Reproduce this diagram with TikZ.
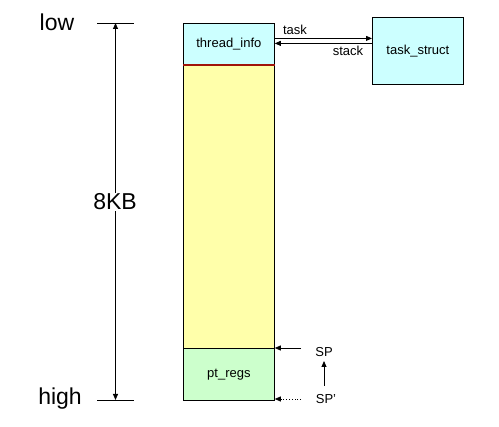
\documentclass[tikz,border=0pt]{standalone}
\usepackage{fontspec}
\setmainfont{Liberation Sans}
\usetikzlibrary{arrows.meta,calc}
\definecolor{infocyan}{RGB}{204,255,255}
\definecolor{stackyellow}{RGB}{255,255,170}
\definecolor{regsgreen}{RGB}{204,255,204}
\definecolor{darkred}{RGB}{160,20,10}
\begin{document}
\begin{tikzpicture}[x=1pt,y=-1pt,
  box/.style={draw=black,line width=0.8pt,minimum width=91pt,inner sep=0pt,font=\fontsize{13}{15}\selectfont},
  small/.style={inner sep=1pt,font=\fontsize{13}{15}\selectfont},
  big/.style={inner sep=1pt,font=\fontsize{23}{27}\selectfont},
  arr/.style={line width=0.8pt,-{Triangle[length=6pt,width=5pt]}},
  tick/.style={line width=0.8pt}]
\useasboundingbox (0,0) rectangle (499,427);
% column
\node[box,fill=infocyan,minimum height=41pt,anchor=north west] (ti) at (183,23) {thread\_info};
\node[box,fill=stackyellow,minimum height=284pt,anchor=north west] (st) at (183,64) {};
\node[box,fill=regsgreen,minimum height=52pt,anchor=north west] (pt) at (183,348) {pt\_regs};
\draw[darkred,line width=2.2pt] (ti.south west) -- (ti.south east);
% task_struct
\node[box,fill=infocyan,minimum height=67pt,anchor=north west] (ts) at (372,17) {task\_struct};
% links
\path ([yshift=5.5pt]ti.east) coordinate (a1);
\path ([yshift=0.5pt]ti.east) coordinate (a2);
\draw[arr] (a1) -- (a1 -| ts.west);
\draw[arr] (a2 -| ts.west) -- (a2);
\node[small] (tasklbl) at (295,30) {task};
\node[small] (stacklbl) at (348,51) {stack};
% dimension
\node[big] (low) at (57,22) {low};
\node[big] (high) at (60,399) {high};
\node[big] (kb) at (115,202) {8KB};
\coordinate (tl) at (97,23); \coordinate (tr) at (134,23);
\coordinate (bl) at (97,400); \coordinate (br) at (134,400);
\coordinate (tm) at (115.5,23); \coordinate (bm) at (115.5,400);
\draw[tick] (tl) -- (tr);
\draw[tick] (bl) -- (br);
\draw[arr] (kb.north -| tm) -- (tm);
\draw[arr] (kb.south -| bm) -- (bm);
% SP
\node[small] (sp) at (324,352) {SP};
\node[small] (spp) at (326,399) {SP'};
\coordinate (spa) at (301,348);
\coordinate (spb) at (301,399);
\draw[arr] (spa) -- (pt.north east);
\draw[arr,dotted] (spb) -- (pt.south east |- spb);
\coordinate (up1) at (324,386); \coordinate (up2) at (324,361);
\draw[arr] (up1) -- (up2);
\end{tikzpicture}
\end{document}
